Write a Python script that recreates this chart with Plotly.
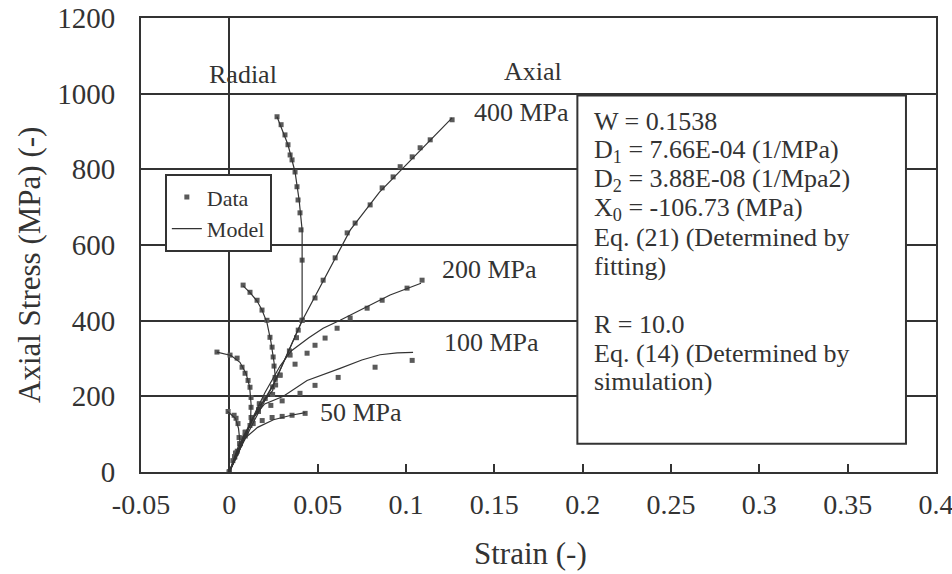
import plotly.graph_objects as go

# ---------------- data (strain, axial stress MPa) ----------------
AX400_STRAIN = [0, 0.003, 0.0061, 0.0095, 0.0129, 0.0165, 0.0202, 0.0245, 0.0287, 0.0344, 0.038, 0.0412,
                0.0485, 0.0531, 0.0599, 0.0667, 0.0712, 0.0797, 0.0865, 0.0927, 0.0967, 0.1035, 0.108, 0.1137, 0.1261]
AX400_STRESS = [0, 40, 75, 105, 136, 165, 195, 225, 256, 309, 355, 401,
                460, 507, 566, 632, 658, 706, 751, 780, 807, 833, 857, 878, 931]
RAD400_STRAIN = [0.0035, 0.009, 0.017, 0.026, 0.034, 0.039, 0.0412, 0.0412, 0.0406, 0.040, 0.0389, 0.0383,
                 0.0372, 0.0355, 0.0344, 0.0332, 0.0315, 0.0293, 0.027]
RAD400_STRESS = [50, 105, 180, 245, 320, 375, 401, 560, 640, 685, 719, 754,
                 793, 825, 838, 865, 891, 918, 939]
MAX400_STRAIN = [0, 0.006, 0.0146, 0.0259, 0.0412, 0.0685, 0.085, 0.1261]
MAX400_STRESS = [0, 60, 140, 240, 400, 640, 740, 936]
MRAD400_STRAIN = [0, 0.0129, 0.0259, 0.0412, 0.0412, 0.0395, 0.0372, 0.0332, 0.027]
MRAD400_STRESS = [0, 136, 240, 400, 640, 719, 793, 865, 939]

AX200_STRAIN = [0, 0.006, 0.0129, 0.0202, 0.0287, 0.0372, 0.044, 0.0485, 0.0542, 0.061, 0.0684, 0.078,
                0.0865, 0.1006, 0.1091]
AX200_STRESS = [0, 75, 136, 195, 256, 285, 314, 335, 354, 380, 407, 433, 454, 486, 507]
RAD200_STRAIN = [0.003, 0.009, 0.017, 0.0245, 0.0262, 0.0259, 0.0253, 0.0248, 0.0242, 0.023, 0.0213,
                 0.0185, 0.0157, 0.0117, 0.0078]
RAD200_STRESS = [40, 105, 180, 205, 230, 250, 280, 304, 330, 356, 401, 428, 454, 475, 494]
MAX200_STRAIN = [0, 0.006, 0.0129, 0.0202, 0.0287, 0.035, 0.045, 0.0531, 0.0627, 0.075, 0.091, 0.1085]
MAX200_STRESS = [0, 60, 140, 210, 280, 320, 355, 380, 401, 430, 468, 499]
MRAD200_STRAIN = [0, 0.009, 0.017, 0.0245, 0.026, 0.0253, 0.0235, 0.0213, 0.0185, 0.0157, 0.0117, 0.0078]
MRAD200_STRESS = [0, 100, 175, 215, 250, 290, 345, 395, 428, 452, 474, 492]

AX100_STRAIN = [0, 0.006, 0.0129, 0.0165, 0.0235, 0.0299, 0.040, 0.0485, 0.0616, 0.0825, 0.1035]
AX100_STRESS = [0, 75, 136, 160, 176, 188, 208, 229, 250, 277, 295]
RAD100_STRAIN = [0.003, 0.0075, 0.0117, 0.0123, 0.0123, 0.0123, 0.0117, 0.0106, 0.0089, 0.0072, 0.0044,
                 0.0004, -0.007]
RAD100_STRESS = [40, 90, 123, 144, 171, 197, 224, 242, 261, 277, 301, 309, 317]
MAX100_STRAIN = [0, 0.006, 0.0129, 0.02, 0.0306, 0.044, 0.0627, 0.075, 0.0853, 0.095, 0.104]
MAX100_STRESS = [0, 60, 140, 180, 200, 242, 274, 296, 310, 315, 316]
MRAD100_STRAIN = [0, 0.0075, 0.012, 0.0123, 0.0115, 0.0095, 0.006, 0.001, -0.007]
MRAD100_STRESS = [0, 90, 130, 180, 225, 260, 290, 308, 317]

AX50_STRAIN = [0, 0.004, 0.009, 0.0135, 0.0186, 0.0242, 0.0299, 0.0355, 0.0429]
AX50_STRESS = [0, 50, 95, 128, 136, 144, 147, 150, 155]
RAD50_STRAIN = [0.002, 0.0045, 0.0062, 0.0055, 0.0049, 0.0038, 0.0027, -0.0007]
RAD50_STRESS = [30, 55, 75, 91, 128, 142, 150, 160]
MAX50_STRAIN = [0, 0.004, 0.009, 0.016, 0.025, 0.035, 0.043]
MAX50_STRESS = [0, 50, 90, 118, 138, 150, 157]
MRAD50_STRAIN = [0, 0.004, 0.006, 0.0052, 0.0035, 0.0, -0.001]
MRAD50_STRESS = [0, 50, 80, 115, 142, 156, 160]

X_TICKS = [-0.05, 0, 0.05, 0.1, 0.15, 0.2, 0.25, 0.3, 0.35, 0.4]
X_TICKTEXT = ["-0.05", "0", "0.05", "0.1", "0.15", "0.2", "0.25", "0.3", "0.35", "0.4"]
Y_TICKS = [0, 200, 400, 600, 800, 1000, 1200]
Y_TICKTEXT = ["0", "200", "400", "600", "800", "1000", "1200"]

PRESSURE_LABELS = ["400 MPa", "200 MPa", "100 MPa", "50 MPa"]
LABEL_X = [0.1375, 0.1193, 0.1204, 0.0502]
LABEL_Y = [950, 534, 343, 158]

BOX_LINES = ["W = 0.1538", "D<sub>1</sub> = 7.66E-04 (1/MPa)", "D<sub>2</sub> = 3.88E-08 (1/Mpa2)",
             "X<sub>0</sub> = -106.73 (MPa)", "Eq. (21) (Determined by", "fitting)", "",
             "R = 10.0", "Eq. (14) (Determined by", "simulation)"]

X_TITLE = "Strain (-)"
Y_TITLE = "Axial Stress (MPa) (-)"

FONT = "Liberation Serif"
INK = "#333333"
MARK = "#5a5a5a"

fig = go.Figure()

data_sets = [(AX400_STRAIN, AX400_STRESS), (RAD400_STRAIN, RAD400_STRESS),
             (AX200_STRAIN, AX200_STRESS), (RAD200_STRAIN, RAD200_STRESS),
             (AX100_STRAIN, AX100_STRESS), (RAD100_STRAIN, RAD100_STRESS),
             (AX50_STRAIN, AX50_STRESS), (RAD50_STRAIN, RAD50_STRESS)]
model_sets = [(MAX400_STRAIN, MAX400_STRESS), (MRAD400_STRAIN, MRAD400_STRESS),
              (MAX200_STRAIN, MAX200_STRESS), (MRAD200_STRAIN, MRAD200_STRESS),
              (MAX100_STRAIN, MAX100_STRESS), (MRAD100_STRAIN, MRAD100_STRESS),
              (MAX50_STRAIN, MAX50_STRESS), (MRAD50_STRAIN, MRAD50_STRESS)]

for i, (xs, ys) in enumerate(data_sets):
    fig.add_trace(go.Scatter(x=xs, y=ys, mode="markers", name="Data",
                             showlegend=(i == 0), legendrank=1,
                             marker=dict(symbol="square", size=5, color=MARK)))
for i, (xs, ys) in enumerate(model_sets):
    fig.add_trace(go.Scatter(x=xs, y=ys, mode="lines", name="Model",
                             showlegend=(i == 0), legendrank=2,
                             line=dict(color=INK, width=1.2)))

annotations = []
for t, x, y in zip(PRESSURE_LABELS, LABEL_X, LABEL_Y):
    annotations.append(dict(x=x, y=y, xref="x", yref="y", text=t, showarrow=False,
                            xanchor="left", yanchor="middle", font=dict(size=26)))
annotations.append(dict(x=0.0078, y=1050, xref="x", yref="y", text="Radial", showarrow=False,
                        xanchor="center", yanchor="middle", font=dict(size=26)))
annotations.append(dict(x=0.172, y=1058, xref="x", yref="y", text="Axial", showarrow=False,
                        xanchor="center", yanchor="middle", font=dict(size=26)))

# text box lines: pixel center rows converted to stress units (471.5 - py)/0.3775
row_px = [122, 151, 180, 209, 238, 266, 295, 324, 353, 381]
for t, py in zip(BOX_LINES, row_px):
    if not t:
        continue
    annotations.append(dict(x=0.205, y=(471.5 - py) / 0.3775, xref="x", yref="y", text=t,
                            showarrow=False, xanchor="left", yanchor="middle",
                            font=dict(size=26)))

# axis titles as annotations for exact placement
annotations.append(dict(x=(530 - 141) / 795, y=(472 - 553) / 454, xref="paper", yref="paper",
                        text=X_TITLE, showarrow=False, xanchor="center", yanchor="middle",
                        font=dict(size=31)))
annotations.append(dict(x=(29 - 141) / 795, y=(472 - 265) / 454, xref="paper", yref="paper",
                        text=Y_TITLE, showarrow=False, xanchor="center", yanchor="middle",
                        textangle=-90, font=dict(size=31)))

fig.update_layout(
    width=952, height=574,
    margin=dict(l=141, r=16, t=18, b=102),
    paper_bgcolor="white", plot_bgcolor="white",
    font=dict(family=FONT, color=INK, size=26),
    showlegend=True,
    legend=dict(x=0.030, y=0.656, xanchor="left", yanchor="top",
                bgcolor="white", bordercolor=INK, borderwidth=2,
                font=dict(size=22), tracegroupgap=0, itemwidth=30),
    annotations=annotations,
    shapes=[dict(type="rect", xref="x", yref="y", x0=0.197, x1=0.383, y0=75, y1=995,
                 line=dict(color=INK, width=2), fillcolor="white", layer="above")],
)

fig.update_xaxes(range=[-0.05, 0.4], tickvals=X_TICKS, ticktext=X_TICKTEXT,
                 ticks="inside", ticklen=8, tickwidth=1.5, tickcolor=INK,
                 showgrid=False, zeroline=True, zerolinecolor=INK, zerolinewidth=2,
                 showline=True, mirror=True, linecolor=INK, linewidth=2,
                 tickfont=dict(size=28), automargin=False, ticklabeloverflow="allow",
                 ticklabelstandoff=6)
fig.update_yaxes(range=[0, 1200], tickvals=Y_TICKS, ticktext=Y_TICKTEXT,
                 ticks="", showgrid=True, gridcolor=INK, gridwidth=2, zeroline=False,
                 showline=True, mirror=True, linecolor=INK, linewidth=2,
                 tickfont=dict(size=29), ticklabelstandoff=18, automargin=False,
                 ticklabeloverflow="allow")

fig.write_html("out.html")
